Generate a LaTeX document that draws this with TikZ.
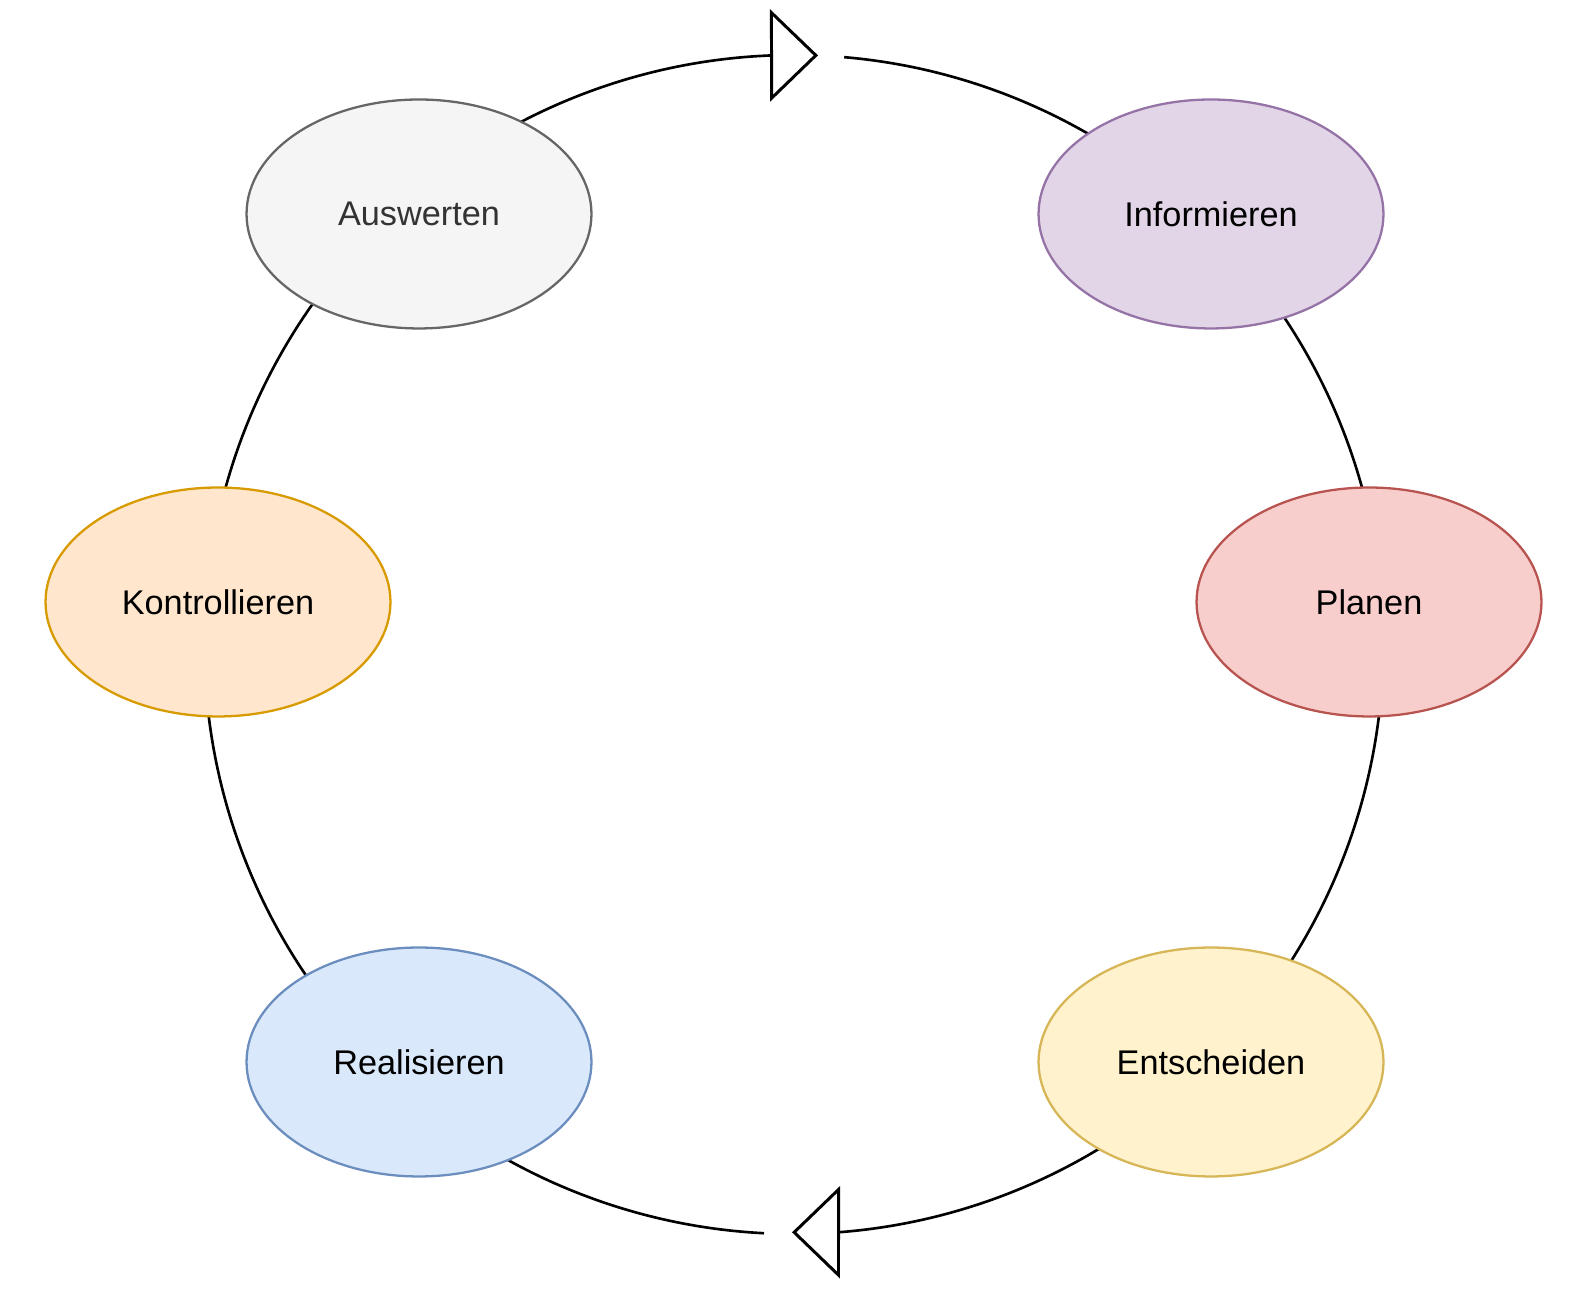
\documentclass[tikz,border=0pt]{standalone}
\usepackage{fontspec}
\setmainfont{Liberation Sans}
\usetikzlibrary{shapes.geometric,arrows.meta,calc,backgrounds}
\definecolor{grayfill}{HTML}{F5F5F5}\definecolor{graydraw}{HTML}{666666}\definecolor{graytext}{HTML}{333333}
\definecolor{purplefill}{HTML}{E1D5E7}\definecolor{purpledraw}{HTML}{9673A6}
\definecolor{orangefill}{HTML}{FFE6CC}\definecolor{orangedraw}{HTML}{D79B00}
\definecolor{redfill}{HTML}{F8CECC}\definecolor{reddraw}{HTML}{B85450}
\definecolor{bluefill}{HTML}{DAE8FC}\definecolor{bluedraw}{HTML}{6C8EBF}
\definecolor{yellowfill}{HTML}{FFF2CC}\definecolor{yellowdraw}{HTML}{D6B656}
\begin{document}
\begin{tikzpicture}[x=0.02cm, y=0.02cm, font=\fontsize{19.5pt}{23pt}\selectfont, declare function={R=589.5;},
	phase/.style={ellipse, draw, line width=1.3pt, minimum width=6.9cm, minimum height=4.58cm, inner sep=0pt},
	cyc/.style={line width=1.5pt},
	opentip/.style={-{Triangle[open, length=0.96cm, width=1.84cm, line width=1.7pt]}}]
				\useasboundingbox (0,0) rectangle (1575,1297);
				\path (793.8,652.5) coordinate (C) (818,1241.6) coordinate (tipT) (844.2,1239.8) coordinate (gapT)
				(792,64.7) coordinate (tipB) (764,63.8) coordinate (gapB);
				\node[phase, fill=grayfill, draw=graydraw, text=graytext] (aus) at (419,1083) {Auswerten};
				\node[phase, fill=purplefill, draw=purpledraw] (info) at (1211,1083) {Informieren};
				\node[phase, fill=orangefill, draw=orangedraw] (kon) at (218,695) {Kontrollieren};
				\node[phase, fill=redfill, draw=reddraw] (pla) at (1369,695) {Planen};
				\node[phase, fill=bluefill, draw=bluedraw] (rea) at (419,235) {Realisieren};
				\node[phase, fill=yellowfill, draw=yellowdraw] (ent) at (1211,235) {Entscheiden};
				\begin{scope}[on background layer]
				\foreach \s/\e in {gapT/info, info/pla, pla/ent, gapB/rea, rea/kon, kon/aus}{
				\draw[cyc] let \p1=($(\s)-(C)$), \p2=($(\e)-(C)$), \n1={atan2(\y1,\x1)}, \n2={mod(\n1-atan2(\y2,\x2)+720,360)}
				in ($(C)+(\n1:R)$) arc[start angle=\n1, delta angle=-\n2, radius=R];
				}
				\draw[cyc, opentip] let \p1=($(aus)-(C)$), \n1={atan2(\y1,\x1)} in ($(C)+(\n1:R)$) arc[start angle=\n1, end angle=92.2, radius=R] -- (tipT);
				\draw[cyc, opentip] let \p1=($(ent)-(C)$), \n1={atan2(\y1,\x1)} in ($(C)+(\n1:R)$) arc[start angle=\n1, end angle=-85.7, radius=R] -- (tipB);
				\end{scope}
			\end{tikzpicture}
\end{document}
